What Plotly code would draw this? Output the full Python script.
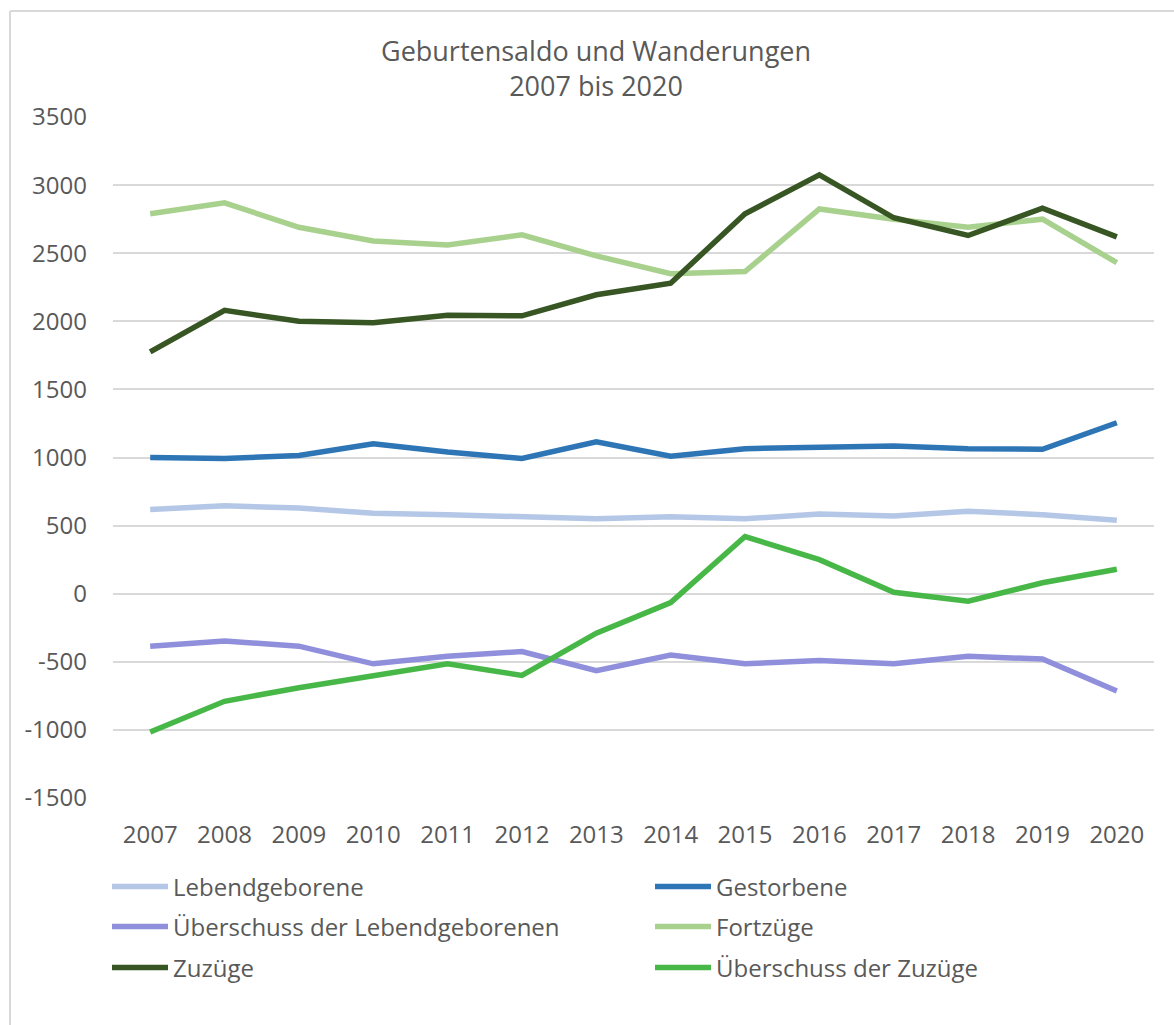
import plotly.graph_objects as go

years = ["2007", "2008", "2009", "2010", "2011", "2012", "2013",
         "2014", "2015", "2016", "2017", "2018", "2019", "2020"]

lebendgeborene = [618, 645, 630, 590, 580, 570, 550, 565, 550, 585, 570, 605, 580, 540]
gestorbene = [1000, 993, 1015, 1100, 1040, 993, 1115, 1010, 1065, 1075, 1085, 1065, 1060, 1255]
ueberschuss_leb = [-385, -348, -385, -515, -460, -425, -565, -450, -515, -490, -515, -460, -480, -715]
fortzuege = [2790, 2870, 2690, 2590, 2560, 2635, 2480, 2350, 2365, 2825, 2750, 2690, 2750, 2430]
zuzuege = [1775, 2080, 2000, 1990, 2045, 2040, 2195, 2280, 2790, 3075, 2760, 2630, 2830, 2620]
ueberschuss_zuz = [-1015, -790, -690, -600, -515, -600, -290, -65, 420, 250, 10, -55, 80, 180]

y_tickvals = [-1500, -1000, -500, 0, 500, 1000, 1500, 2000, 2500, 3000, 3500]
y_ticktext = ["-1500", "-1000", "-500", "0", "500", "1000", "1500", "2000", "2500", "3000", "3500"]

series = [
    ("Lebendgeborene", lebendgeborene, "#B4C7E7", "legend"),
    ("Gestorbene", gestorbene, "#2E75B6", "legend"),
    ("Überschuss der Lebendgeborenen", ueberschuss_leb, "#8F8FDC", "legend2"),
    ("Fortzüge", fortzuege, "#A9D18E", "legend2"),
    ("Zuzüge", zuzuege, "#375623", "legend3"),
    ("Überschuss der Zuzüge", ueberschuss_zuz, "#47B847", "legend3"),
]

fig = go.Figure()
for name, vals, col, lg in series:
    fig.add_trace(go.Scatter(
        x=list(range(len(years))), y=vals, name=name, mode="lines",
        line=dict(color=col, width=5.5), legend=lg,
    ))

font = "Open Sans, Noto Sans, sans-serif"
L, R, T, B = 113, 20, 117, 227
W, H = 1174, 1025
pw = W - L - R
ph = H - T - B


def legend_row(ypix):
    return dict(
        orientation="h", x=(107 - L) / pw, xanchor="left",
        y=-(ypix - (T + ph)) / ph, yanchor="middle",
        entrywidth=472, entrywidthmode="pixels",
        itemwidth=56,
        font=dict(size=24, color="#595959", family=font),
        bgcolor="rgba(0,0,0,0)",
    )


fig.update_layout(
    width=W, height=H,
    margin=dict(l=L, r=R, t=T, b=B, autoexpand=False),
    paper_bgcolor="white", plot_bgcolor="white",
    font=dict(family=font, color="#595959", size=24),
    showlegend=True,
    legend=legend_row(887),
    legend2=legend_row(927),
    legend3=legend_row(968),
    xaxis=dict(
        tickmode="array", tickvals=list(range(len(years))), ticktext=years,
        range=[-0.5, len(years) - 0.5],
        showgrid=False, zeroline=False, showline=False, ticks="",
        tickfont=dict(size=24, color="#595959"),
        ticklabelstandoff=20,
    ),
    yaxis=dict(
        range=[-1500, 3500], tickmode="array",
        tickvals=y_tickvals, ticktext=y_ticktext,
        showgrid=True, gridcolor="#D9D9D9", gridwidth=2,
        zeroline=False, showline=False, ticks="",
        tickfont=dict(size=24, color="#595959"),
        ticklabelstandoff=25,
    ),
    annotations=[dict(
        text="Geburtensaldo und Wanderungen<br>2007 bis 2020",
        xref="paper", yref="paper",
        x=(596 - L) / pw, y=1 + (T - 30) / ph,
        xanchor="center", yanchor="top", showarrow=False,
        font=dict(size=27, color="#595959", family=font),
    )],
    shapes=[
        dict(type="line", xref="paper", yref="paper",
             x0=(10 - L) / pw, x1=(W + 5 - L) / pw,
             y0=1 + (T - 11) / ph, y1=1 + (T - 11) / ph,
             line=dict(color="#D9D9D9", width=2)),
        dict(type="line", xref="paper", yref="paper",
             x0=(10 - L) / pw, x1=(10 - L) / pw,
             y0=1 + (T - 11) / ph, y1=-(B + 5) / ph,
             line=dict(color="#D9D9D9", width=2)),
    ],
)

fig.write_html("out.html", config={"displayModeBar": False},
               post_script="document.body.style.margin='0';")
